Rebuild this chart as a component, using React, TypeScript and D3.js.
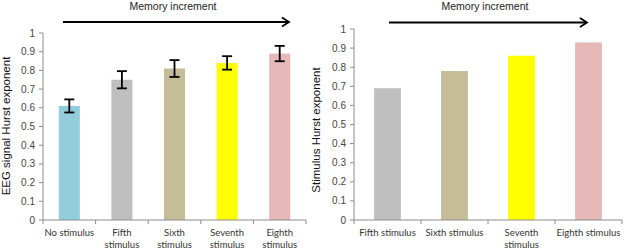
import React from "react";
import * as d3 from "d3";

const leftCategories = ["No stimulus", "Fifth stimulus", "Sixth stimulus", "Seventh stimulus", "Eighth stimulus"];
const leftLabelLines = [["No stimulus"], ["Fifth", "stimulus"], ["Sixth", "stimulus"], ["Seventh", "stimulus"], ["Eighth", "stimulus"]];
const leftValues = [0.61, 0.75, 0.81, 0.84, 0.89];
const leftErrors = [0.035, 0.046, 0.045, 0.036, 0.041];
const leftColors = ["#92CDDC", "#BFBFBF", "#C4BD97", "#FFFF00", "#E6B9B8"];

const rightCategories = ["Fifth stimulus", "Sixth stimulus", "Seventh stimulus", "Eighth stimulus"];
const rightLabelLines = [["Fifth stimulus"], ["Sixth stimulus"], ["Seventh", "stimulus"], ["Eighth stimulus"]];
const rightValues = [0.69, 0.78, 0.86, 0.93];
const rightColors = ["#BFBFBF", "#C4BD97", "#FFFF00", "#E6B9B8"];

const yTicks = [0, 0.1, 0.2, 0.3, 0.4, 0.5, 0.6, 0.7, 0.8, 0.9, 1];
const titleText = "Memory increment";
const leftYLabel = "EEG signal Hurst exponent";
const rightYLabel = "Stimulus Hurst exponent";

const AXIS = "#8c8c8c";
const TICKFONT = "'Liberation Sans', Arial, sans-serif";
const CATFONT = "Lato, 'Open Sans', sans-serif";

type PanelProps = {
  cats: string[];
  lines: string[][];
  values: number[];
  errors?: number[];
  colors: string[];
  x0: number;
  x1: number;
  yTop: number;
  yBottom: number;
  yLabel: string;
  yLabelX: number;
  yLabelY: number;
  arrowX0: number;
  arrowX1: number;
  arrowY: number;
  titleX: number;
};

function Panel(p: PanelProps) {
  const x = d3.scaleBand<string>().domain(p.cats).range([p.x0, p.x1]).paddingInner(0.6).paddingOuter(0.3);
  const y = d3.scaleLinear().domain([0, 1]).range([p.yBottom, p.yTop]);
  const step = x.step();
  const boundaries = d3.range(p.cats.length + 1).map((i) => p.x0 + i * step);
  return (
    <g>
      <text x={p.titleX} y={9.5} textAnchor="middle" fontFamily={TICKFONT} fontSize={10.5} fill="#222">
        {titleText}
      </text>
      <line x1={p.arrowX0} x2={p.arrowX1 - 1} y1={p.arrowY} y2={p.arrowY} stroke="#000" strokeWidth={2} />
      <polyline
        points={`${p.arrowX1 - 7},${p.arrowY - 4.5} ${p.arrowX1},${p.arrowY} ${p.arrowX1 - 7},${p.arrowY + 4.5}`}
        fill="none"
        stroke="#000"
        strokeWidth={1.8}
      />
      <text
        transform={`translate(${p.yLabelX},${p.yLabelY}) rotate(-90)`}
        textAnchor="middle"
        fontFamily={TICKFONT}
        fontSize={11.5}
        fill="#111"
      >
        {p.yLabel}
      </text>
      {/* y axis */}
      <line x1={p.x0} x2={p.x0} y1={y(1)} y2={y(0)} stroke={AXIS} strokeWidth={1} />
      {yTicks.map((t) => (
        <g key={t}>
          <line x1={p.x0 - 4} x2={p.x0} y1={y(t)} y2={y(t)} stroke={AXIS} />
          <text x={p.x0 - 8} y={y(t)} dy="0.35em" textAnchor="end" fontFamily={TICKFONT} fontSize={10} fill="#444">
            {d3.format("~g")(t)}
          </text>
        </g>
      ))}
      {/* bars */}
      {p.cats.map((c, i) => (
        <rect
          key={c}
          x={x(c)}
          y={y(p.values[i])}
          width={x.bandwidth()}
          height={y(0) - y(p.values[i])}
          fill={p.colors[i]}
        />
      ))}
      {/* error bars */}
      {p.errors &&
        p.cats.map((c, i) => {
          const cx = (x(c) as number) + x.bandwidth() / 2;
          const lo = y(p.values[i] - p.errors![i]);
          const hi = y(p.values[i] + p.errors![i]);
          return (
            <g key={"e" + c} stroke="#000" strokeWidth={1.8}>
              <line x1={cx} x2={cx} y1={hi} y2={lo} />
              <line x1={cx - 5} x2={cx + 5} y1={hi} y2={hi} />
              <line x1={cx - 5} x2={cx + 5} y1={lo} y2={lo} />
            </g>
          );
        })}
      {/* x axis */}
      <line x1={p.x0} x2={p.x1} y1={y(0)} y2={y(0)} stroke={AXIS} />
      {boundaries.map((bx, i) => (
        <line key={"b" + i} x1={bx} x2={bx} y1={y(0)} y2={y(0) + 4} stroke={AXIS} />
      ))}
      {p.cats.map((c, i) => (
        <text
          key={"l" + c}
          x={(x(c) as number) + x.bandwidth() / 2}
          y={236}
          textAnchor="middle"
          fontFamily={CATFONT}
          fontSize={9.5}
          fill="#333"
        >
          {p.lines[i].map((ln, j) => (
            <tspan key={j} x={(x(c) as number) + x.bandwidth() / 2} y={236 + j * 11.5}>
              {ln}
            </tspan>
          ))}
        </text>
      ))}
    </g>
  );
}

export default function App() {
  return (
    <div style={{ position: "absolute", left: 0, top: 0 }}>
      <svg width={624} height={252} style={{ display: "block", background: "#fff" }}>
        <Panel
          cats={leftCategories}
          lines={leftLabelLines}
          values={leftValues}
          errors={leftErrors}
          colors={leftColors}
          x0={43}
          x1={306}
          yTop={33}
          yBottom={220}
          yLabel={leftYLabel}
          yLabelX={9.5}
          yLabelY={126}
          arrowX0={63}
          arrowX1={289}
          arrowY={22}
          titleX={173}
        />
        <Panel
          cats={rightCategories}
          lines={rightLabelLines}
          values={rightValues}
          colors={rightColors}
          x0={354}
          x1={622}
          yTop={29}
          yBottom={220}
          yLabel={rightYLabel}
          yLabelX={320}
          yLabelY={130}
          arrowX0={389}
          arrowX1={587}
          arrowY={22.5}
          titleX={485}
        />
      </svg>
    </div>
  );
}
